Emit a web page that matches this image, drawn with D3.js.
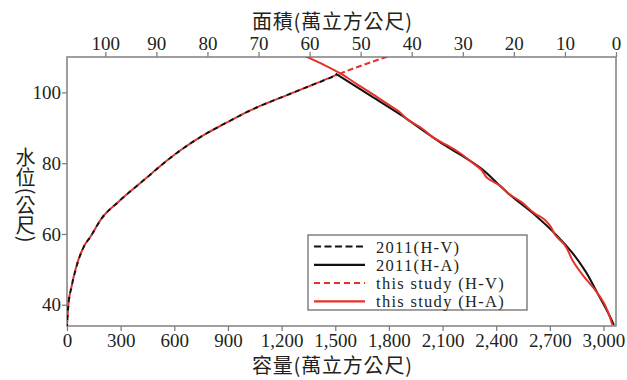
<!DOCTYPE html>
<html><head><meta charset="utf-8">
<script src="https://cdn.jsdelivr.net/npm/d3@7"></script>
<style>body{margin:0;background:#fff}</style>
</head><body>
<svg id="c" width="627" height="380"></svg>
<script>
// ---- data ----
const volumeTicks = [0,300,600,900,1200,1500,1800,2100,2400,2700,3000];
const areaTicks = [100,90,80,70,60,50,40,30,20,10,0];
const levelTicks = [40,60,80,100];
// [volume (萬立方公尺), level (m)]
const hv2011 = [[0,34],[7,39.5],[26,45.2],[48,49.9],[95,56.5],[132,59.3],[188,64],[290,69.2],[420,74.8],[588,81.9],[737,87.1],[886,91.3],[1054,95.6],[1184,98.3],[1352,101.7],[1510,104.9]];
const hvStudy = [[0,34],[6,39],[25,45],[48,50],[95,56.5],[132,59.3],[188,64],[290,69.2],[420,74.8],[588,81.9],[737,87.1],[886,91.3],[1054,95.6],[1184,98.3],[1352,101.7],[1500,104.8],[1659,107.8],[1815,110.5]];
// [area (萬平方公尺), level (m)]
const ha2011 = [[0.4,34.3],[2,39],[3.7,43.5],[6,49.5],[8.5,54.6],[11.8,59.9],[15.8,65.3],[21.2,71.6],[23,74],[26.5,78.6],[30,82],[33.7,85.2],[38,89.5],[42.2,93.7],[48,99],[54.9,105.3]];
const haStudy = [[0.7,34.3],[2.4,40.6],[4.1,44.2],[6.2,47.8],[8.5,52.5],[10.1,57],[11.8,59.5],[13,62.5],[14.2,64.3],[15.8,65.7],[18.5,69],[21.2,71.6],[22.5,73.4],[25.2,75.8],[26.5,78.3],[28.1,80.1],[31,83.3],[33,85],[35.6,87.1],[38,89.8],[40.8,92.3],[42.5,94.6],[44.6,96.6],[46.7,98.6],[50.6,102.2],[53.9,105.3],[57.2,107.8],[61.1,110.4]];
const legendLabels = ["2011(H-V)","2011(H-A)","this study (H-V)","this study (H-A)"];
// vertical y title pieces: [text, kind]
const yTitleParts = [["水位","cjk"],["(","paren"],["公尺","cjk"],[")","paren"]];

// ---- chart ----
const svg = d3.select("#c");
const L=67, R=616, T=57, B=326;
const x = d3.scaleLinear().domain([0,3070]).range([L,R]);
const xa = d3.scaleLinear().domain([107.5,0]).range([L,R]);
const y = d3.scaleLinear().domain([34,110]).range([B,T]);
const gray = "#808080";
const serif = "'Liberation Serif','Times New Roman',serif";
const cjk = "'Noto Sans CJK TC','Noto Sans CJK SC',sans-serif";
const ink = "#231f20";

svg.append("defs").append("clipPath").attr("id","clip")
  .append("rect").attr("x",L).attr("y",T).attr("width",R-L).attr("height",B-T);

function styleAxis(g){
  g.select(".domain").remove();
  g.selectAll(".tick line").attr("stroke",gray).attr("stroke-width",1.3);
  g.selectAll(".tick text").attr("font-family",serif).attr("font-size",19).attr("fill",ink);
}
svg.append("g").attr("transform",`translate(0,${B})`)
  .call(d3.axisBottom(x).tickValues(volumeTicks).tickFormat(d3.format(",")).tickSize(5).tickPadding(3))
  .call(styleAxis);
svg.append("g").attr("transform",`translate(0,${T})`)
  .call(d3.axisTop(xa).tickValues(areaTicks).tickSize(5).tickPadding(2))
  .call(styleAxis);
svg.append("g").attr("transform",`translate(${L},0)`)
  .call(d3.axisLeft(y).tickValues(levelTicks).tickSize(5).tickPadding(1))
  .call(styleAxis);

svg.append("rect").attr("x",L).attr("y",T).attr("width",R-L).attr("height",B-T)
  .attr("fill","none").attr("stroke",gray).attr("stroke-width",1.5);

const red="#e8302a", black="#111";
const lineV = d3.line().x(d=>x(d[0])).y(d=>y(d[1])).curve(d3.curveMonotoneX);
const lineA = d3.line().x(d=>xa(d[0])).y(d=>y(d[1])).curve(d3.curveMonotoneY);
const plot = svg.append("g").attr("clip-path","url(#clip)");
plot.append("path").datum(hvStudy).attr("d",lineV).attr("fill","none").attr("stroke",red).attr("stroke-width",2).attr("stroke-dasharray","6,3");
plot.append("path").datum(hv2011).attr("d",lineV).attr("fill","none").attr("stroke",black).attr("stroke-width",2).attr("stroke-dasharray","5,4").attr("stroke-dashoffset",3);
plot.append("path").datum(ha2011).attr("d",lineA).attr("fill","none").attr("stroke",black).attr("stroke-width",2);
plot.append("path").datum(haStudy).attr("d",lineA).attr("fill","none").attr("stroke",red).attr("stroke-width",2);

// titles
svg.append("text").attr("x",252).attr("y",28.5)
  .attr("font-family",cjk).attr("font-size",20).attr("fill",ink)
  .attr("textLength",160).attr("lengthAdjust","spacing")
  .text("面積(萬立方公尺)");
svg.append("text").attr("x",252).attr("y",373)
  .attr("font-family",cjk).attr("font-size",20).attr("fill",ink)
  .attr("textLength",160).attr("lengthAdjust","spacing")
  .text("容量(萬立方公尺)");
// vertical y title
const ytX = 25.5;
let ytY = 147;
yTitleParts.forEach(([t,kind])=>{
  if(kind==="cjk"){
    svg.append("text").attr("x",ytX).attr("y",ytY)
      .attr("font-family",cjk).attr("font-size",20).attr("fill",ink)
      .style("writing-mode","vertical-rl")
      .text(t);
    ytY += 20*Array.from(t).length;
  } else {
    const cy = ytY + 4;
    svg.append("text").attr("transform",`translate(${ytX},${cy}) rotate(90)`)
      .attr("text-anchor","middle").attr("dy","0.33em")
      .attr("font-family",cjk).attr("font-size",20).attr("fill",ink)
      .text(t);
    ytY += 8;
  }
});

// legend
const lg = svg.append("g");
lg.append("rect").attr("x",308).attr("y",235).attr("width",219).attr("height",75)
  .attr("fill","#fff").attr("stroke","#6d6e71").attr("stroke-width",1.3);
const lstyles = [
  {c:black,d:"7,3.5",w:2.2},
  {c:black,d:null,w:2.2},
  {c:red,d:"6,4",w:2},
  {c:red,d:null,w:2.2}
];
legendLabels.forEach((lab,i)=>{
  const ly = 246.5 + i*18.3;
  const s = lstyles[i];
  lg.append("line").attr("x1",314).attr("x2",365).attr("y1",ly).attr("y2",ly)
    .attr("stroke",s.c).attr("stroke-width",s.w).attr("stroke-dasharray",s.d);
  lg.append("text").attr("x",376).attr("y",ly+6).attr("font-family",serif).attr("font-size",16.5)
    .attr("letter-spacing",1.3).attr("fill",ink).text(lab);
});
</script>
</body></html>
